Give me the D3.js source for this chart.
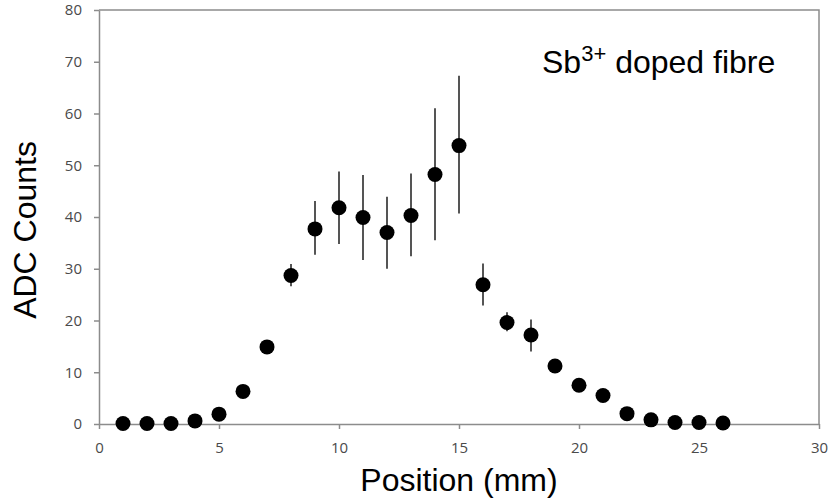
<!DOCTYPE html>
<meta charset="utf-8">
<style>
  body { margin: 0; background: #fff; }
  .tick text { font-family: "Open Sans", "Liberation Sans", sans-serif; font-size: 15px; fill: #4a4a4a; }
</style>
<body>
<div id="chart"></div>
<script src="https://d3js.org/d3.v7.min.js"></script>
<script>

// Data
var positions = [1, 2, 3, 4, 5, 6, 7, 8, 9, 10, 11, 12, 13, 14, 15, 16, 17, 18, 19, 20, 21, 22, 23, 24, 25, 26];
var counts    = [0.1, 0.1, 0.1, 0.6, 1.9, 6.3, 14.9, 28.7, 37.7, 41.8, 39.9, 37.0, 40.3, 48.2, 53.8, 26.9, 19.6, 17.2, 11.2, 7.5, 5.5, 2.0, 0.8, 0.3, 0.3, 0.2];
var errLow    = [0, 0, 0, 0, 0, 0, 0, 26.6, 32.7, 34.8, 31.7, 30.0, 32.4, 35.5, 40.7, 22.9, 17.9, 14.0, 0, 0, 0, 0, 0, 0, 0, 0];
var errHigh   = [0, 0, 0, 0, 0, 0, 0, 30.9, 43.1, 48.8, 48.1, 43.9, 48.4, 61.0, 67.3, 31.0, 21.6, 20.2, 0, 0, 0, 0, 0, 0, 0, 0];
var xTicks = [0, 5, 10, 15, 20, 25, 30];
var yTicks = [0, 10, 20, 30, 40, 50, 60, 70, 80];

var W = 831, H = 501;
var margin = {top: 10, right: 12, bottom: 77, left: 99};
var width = W - margin.left - margin.right,
    height = H - margin.top - margin.bottom;

var x = d3.scaleLinear().domain([0, 30]).range([0, width]);
var y = d3.scaleLinear().domain([0, 80]).range([height, 0]);

var svg = d3.select("#chart").append("svg")
    .attr("width", W)
    .attr("height", H)
  .append("g")
    .attr("transform", "translate(" + margin.left + "," + margin.top + ")");

// frame (top + right)
svg.append("path")
    .attr("d", "M0,0H" + width + "V" + height)
    .attr("fill", "none")
    .attr("stroke", "#8c8c8c")
    .attr("stroke-width", 1.5);

svg.append("g")
    .attr("transform", "translate(0," + height + ")")
    .call(d3.axisBottom(x).tickValues(xTicks).tickSize(5).tickSizeOuter(0).tickPadding(13));

svg.append("g")
    .call(d3.axisLeft(y).tickValues(yTicks).tickSize(5).tickSizeOuter(0).tickPadding(12));

svg.selectAll(".domain, .tick line")
    .attr("stroke", "#8c8c8c")
    .attr("stroke-width", 1.5);

var data = positions.map(function(p, i) {
  return {pos: p, count: counts[i], lo: errLow[i], hi: errHigh[i]};
});

// error bars
svg.selectAll(".err")
    .data(data.filter(function(d) { return d.hi > 0; }))
  .enter().append("line")
    .attr("class", "err")
    .attr("x1", function(d) { return x(d.pos); })
    .attr("x2", function(d) { return x(d.pos); })
    .attr("y1", function(d) { return y(d.lo); })
    .attr("y2", function(d) { return y(d.hi); })
    .attr("stroke", "#555")
    .attr("stroke-width", 2);

svg.selectAll(".dot")
    .data(data)
  .enter().append("circle")
    .attr("class", "dot")
    .attr("cx", function(d) { return x(d.pos); })
    .attr("cy", function(d) { return y(d.count); })
    .attr("r", 7.5)
    .attr("fill", "#000");

// axis titles
svg.append("text")
    .attr("x", width / 2)
    .attr("y", height + 67)
    .attr("text-anchor", "middle")
    .style("font-family", "'Liberation Sans', Arial, sans-serif")
    .style("font-size", "32px")
    .text("Position (mm)");

svg.append("text")
    .attr("transform", "translate(" + (-63) + "," + (y(37.5)) + ") rotate(-90)")
    .attr("text-anchor", "middle")
    .style("font-family", "'Liberation Sans', Arial, sans-serif")
    .style("font-size", "32px")
    .text("ADC Counts");

// annotation
var note = svg.append("text")
    .attr("x", 443)
    .attr("y", 63)
    .style("font-family", "'Liberation Sans', Arial, sans-serif")
    .style("font-size", "32px");
note.append("tspan").text("Sb");
note.append("tspan").attr("dy", -12).style("font-size", "22px").text("3+");
note.append("tspan").attr("dy", 12).text(" doped fibre");

</script>
</body>
